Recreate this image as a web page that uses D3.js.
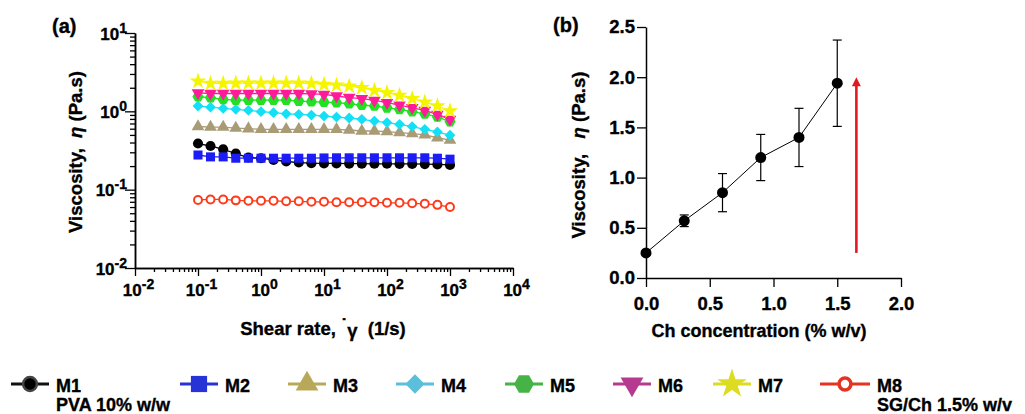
<!DOCTYPE html>
<html>
<head>
<meta charset="utf-8">
<title>Viscosity</title>
<script src="https://cdn.jsdelivr.net/npm/d3@7"></script>
<style>
  body { margin: 0; background: #fff; }
  svg text { font-family: "Liberation Sans", Arial, Helvetica, sans-serif; font-weight: bold; fill: #000; stroke: #000; stroke-width: 0.35px; }
</style>
</head>
<body>
<svg id="chart" width="1025" height="414"></svg>
<script>
// ---- data: panel (a), shear sweep ----
var shearRate = [0.1, 0.158, 0.251, 0.398, 0.631, 1, 1.58, 2.51, 3.98, 6.31, 10,
                 15.8, 25.1, 39.8, 63.1, 100, 158, 251, 398, 631, 1000];
var m1 = [0.388, 0.361, 0.328, 0.289, 0.257, 0.252, 0.240, 0.229, 0.222, 0.218, 0.216,
          0.216, 0.215, 0.215, 0.214, 0.214, 0.213, 0.213, 0.212, 0.210, 0.207];
var m2 = [0.277, 0.262, 0.262, 0.252, 0.252, 0.252, 0.252, 0.252, 0.252, 0.252, 0.254,
          0.255, 0.255, 0.255, 0.255, 0.255, 0.255, 0.255, 0.255, 0.252, 0.245];
var m3 = [0.64, 0.63, 0.63, 0.61, 0.60, 0.59, 0.59, 0.59, 0.59, 0.59, 0.59,
          0.59, 0.578, 0.561, 0.561, 0.551, 0.535, 0.52, 0.50, 0.46, 0.43];
var m4 = [1.17, 1.13, 1.09, 1.06, 1.03, 0.99, 0.96, 0.93, 0.915, 0.897, 0.871,
          0.846, 0.822, 0.791, 0.752, 0.718, 0.683, 0.638, 0.590, 0.545, 0.495];
var m5 = [1.54, 1.49, 1.42, 1.39, 1.39, 1.39, 1.39, 1.39, 1.35, 1.33, 1.31,
          1.29, 1.25, 1.20, 1.17, 1.11, 1.06, 0.99, 0.93, 0.85, 0.74];
var m6 = [1.72, 1.69, 1.69, 1.69, 1.69, 1.69, 1.69, 1.69, 1.69, 1.67, 1.65,
          1.57, 1.50, 1.45, 1.38, 1.29, 1.20, 1.11, 1.03, 0.916, 0.79];
var m7 = [2.43, 2.27, 2.27, 2.29, 2.29, 2.29, 2.29, 2.29, 2.29, 2.27, 2.21,
          2.16, 2.10, 2.00, 1.85, 1.73, 1.60, 1.45, 1.31, 1.17, 1.01];
var m8 = [0.074, 0.075, 0.075, 0.073, 0.072, 0.072, 0.072, 0.071, 0.071, 0.070, 0.070,
          0.069, 0.069, 0.069, 0.069, 0.068, 0.068, 0.067, 0.066, 0.064, 0.060];

var seriesNames = ['M1', 'M2', 'M3', 'M4', 'M5', 'M6', 'M7', 'M8'];
var seriesSub = ['PVA 10% w/w', '', '', '', '', '', '', 'SG/Ch 1.5% w/v'];
var plotColors = ['#000000', '#1c1cf5', '#a89b76', '#14e0f5', '#22e022', '#ff1a9a', '#f5f500', '#ff3a1a'];
var legendColors = ['#111111', '#2633d6', '#b8a95a', '#5bbfdc', '#45b345', '#b53a90', '#dcdc22', '#e63220'];
var xDecades = [0.01, 0.1, 1, 10, 100, 1000, 10000];
var yDecades = [0.01, 0.1, 1, 10];

// ---- data: panel (b), concentration ----
var chConc = [0, 0.3, 0.6, 0.9, 1.2, 1.5];
var viscMean = [0.25, 0.57, 0.85, 1.20, 1.40, 1.94];
var viscErr = [0, 0.058, 0.19, 0.23, 0.29, 0.43];
var arrowX = 1.65, arrowFrom = 0.25, arrowTo = 2.0;

var svg = d3.select('#chart');
svg.append('rect').attr('width', 1025).attr('height', 414).attr('fill', '#fff');

//---------------- panel (a) ----------------
var x = d3.scaleLog().domain([0.01, 10000]).range([135, 513]);
var y = d3.scaleLog().domain([0.01, 10]).range([268, 33]);

function minorTicks(decades) {
  var out = [];
  for (var i = 0; i < decades.length - 1; i++)
    for (var k = 2; k <= 9; k++) out.push(decades[i] * k);
  return out;
}

function styleAxis(g) {
  g.selectAll('path.domain').attr('stroke', '#000').attr('stroke-width', 1.5);
  g.selectAll('.tick line').attr('stroke', '#000').attr('stroke-width', 1.3);
}

// minor ticks first, then major with domain
svg.append('g').attr('transform', 'translate(0,268)')
  .call(d3.axisBottom(x).tickValues(minorTicks(xDecades)).tickSize(4).tickSizeOuter(0).tickFormat(''))
  .call(styleAxis);
svg.append('g').attr('transform', 'translate(135,0)')
  .call(d3.axisLeft(y).tickValues(minorTicks(yDecades)).tickSize(5).tickSizeOuter(0).tickFormat(''))
  .call(styleAxis);

var gx = svg.append('g').attr('transform', 'translate(0,268)')
  .call(d3.axisBottom(x).tickValues(xDecades).tickSize(8).tickSizeOuter(0).tickFormat(''))
  .call(styleAxis);
var gy = svg.append('g').attr('transform', 'translate(135,0)')
  .call(d3.axisLeft(y).tickValues(yDecades).tickSize(10).tickSizeOuter(0).tickFormat(''))
  .call(styleAxis);

function powLabel(sel) {
  sel.style('font-size', '17px');
  sel.append('tspan').text('10');
  sel.append('tspan').attr('dy', -7).style('font-size', '14px')
    .text(function(d) { return Math.round(Math.log10(d)); });
}

gx.selectAll('.tick').append('text')
  .attr('y', 296).attr('transform', 'translate(0,-268)')
  .attr('x', 3).attr('text-anchor', 'middle')
  .call(powLabel);
gy.selectAll('.tick').append('text')
  .attr('x', -8).attr('y', 6).attr('text-anchor', 'end')
  .call(powLabel);

var shapes = [
  d3.symbolCircle, d3.symbolSquare, d3.symbolTriangle, 'diamond',
  'hexagon', 'tridown', d3.symbolStar, d3.symbolCircle
];

function hexPath(r) {
  var p = d3.path();
  for (var i = 0; i < 6; i++) {
    var a = Math.PI / 3 * i;
    if (i === 0) p.moveTo(r * Math.cos(a), r * Math.sin(a));
    else p.lineTo(r * Math.cos(a), r * Math.sin(a));
  }
  p.closePath();
  return p.toString();
}

function markerPath(i, scale) {
  var s = shapes[i];
  if (s === 'diamond') return d3.symbol(d3.symbolSquare, 58 * scale)();
  if (s === 'hexagon') return hexPath(5.6 * Math.sqrt(scale));
  if (s === 'tridown') return d3.symbol(d3.symbolTriangle, 70 * scale)();
  var sizes = [80, 82, 70, 0, 0, 0, 85, 50];
  return d3.symbol(s, sizes[i] * scale)();
}
function markerRotate(i) {
  if (shapes[i] === 'diamond') return ' rotate(45)';
  if (shapes[i] === 'tridown') return ' rotate(180)';
  return '';
}

var allSeries = [m1, m2, m3, m4, m5, m6, m7, m8];
var line = d3.line().x(function(d) { return x(d[0]); }).y(function(d) { return y(d[1]); });

// draw from M8 up so the black M1 sits on top
[7, 0, 1, 2, 3, 4, 5, 6].forEach(function(si) {
  var pts = shearRate.map(function(r, j) { return [r, allSeries[si][j]]; });
  var g = svg.append('g');
  g.append('path').datum(pts).attr('d', line)
    .attr('fill', 'none').attr('stroke', plotColors[si]).attr('stroke-width', 1.3);
  g.selectAll('path.pt').data(pts).enter().append('path')
    .attr('class', 'pt')
    .attr('d', markerPath(si, 1))
    .attr('transform', function(d) { return 'translate(' + x(d[0]) + ',' + y(d[1]) + ')' + markerRotate(si); })
    .attr('fill', si === 7 ? '#fff' : plotColors[si])
    .attr('stroke', si === 7 ? plotColors[si] : 'none')
    .attr('stroke-width', si === 7 ? 2 : 0);
});

svg.append('text').attr('x', 52).attr('y', 33).style('font-size', '20px').text('(a)');

var yl = svg.append('text').attr('transform', 'translate(82,152) rotate(-90)')
  .attr('text-anchor', 'middle').style('font-size', '18.5px');
yl.append('tspan').text('Viscosity,\u00a0\u00a0');
yl.append('tspan').style('font-style', 'italic').text('η');
yl.append('tspan').text('\u00a0(Pa.s)');

var xl = svg.append('text').attr('x', 323).attr('y', 335)
  .attr('text-anchor', 'middle').style('font-size', '18.5px');
xl.append('tspan').text('Shear rate, ');
xl.append('tspan').attr('dy', -3).text('˙');
xl.append('tspan').attr('dy', 5).text('γ');
xl.append('tspan').attr('dy', -2).text('\u00a0\u00a0(1/s)');

//---------------- panel (b) ----------------
var bx = d3.scaleLinear().domain([0, 2]).range([646, 901]);
var by = d3.scaleLinear().domain([0, 2.5]).range([278, 27]);

var gbx = svg.append('g').attr('transform', 'translate(0,278)')
  .call(d3.axisBottom(bx).tickValues([0, 0.5, 1, 1.5, 2]).tickSize(9).tickSizeOuter(0).tickPadding(5).tickFormat(d3.format('.1f')))
  .call(styleAxis);
var gby = svg.append('g').attr('transform', 'translate(646,0)')
  .call(d3.axisLeft(by).tickValues([0, 0.5, 1, 1.5, 2, 2.5]).tickSize(9).tickSizeOuter(0).tickPadding(2).tickFormat(d3.format('.1f')))
  .call(styleAxis);
gbx.attr('font-family', null).attr('font-size', null);
gby.attr('font-family', null).attr('font-size', null);
gbx.selectAll('.tick text').style('font-size', '18.5px').attr('fill', '#000').attr('dy', '0.95em');
gby.selectAll('.tick text').style('font-size', '18.5px').attr('fill', '#000');

var bpts = chConc.map(function(c, i) { return { x: c, y: viscMean[i], e: viscErr[i] }; });
var eb = svg.append('g').selectAll('g').data(bpts.filter(function(d) { return d.e > 0; })).enter().append('g');
eb.append('line')
  .attr('x1', function(d) { return bx(d.x); }).attr('x2', function(d) { return bx(d.x); })
  .attr('y1', function(d) { return by(d.y - d.e); }).attr('y2', function(d) { return by(d.y + d.e); })
  .attr('stroke', '#000').attr('stroke-width', 1.2);
[-1, 1].forEach(function(s) {
  eb.append('line')
    .attr('x1', function(d) { return bx(d.x) - 4.5; }).attr('x2', function(d) { return bx(d.x) + 4.5; })
    .attr('y1', function(d) { return by(d.y + s * d.e); }).attr('y2', function(d) { return by(d.y + s * d.e); })
    .attr('stroke', '#000').attr('stroke-width', 1.2);
});

svg.append('path').datum(bpts)
  .attr('d', d3.line().x(function(d) { return bx(d.x); }).y(function(d) { return by(d.y); }))
  .attr('fill', 'none').attr('stroke', '#000').attr('stroke-width', 1);
svg.append('g').selectAll('circle').data(bpts).enter().append('circle')
  .attr('cx', function(d) { return bx(d.x); }).attr('cy', function(d) { return by(d.y); })
  .attr('r', 5.5).attr('fill', '#000');

// red arrow
svg.append('line')
  .attr('x1', bx(arrowX)).attr('x2', bx(arrowX))
  .attr('y1', by(arrowFrom)).attr('y2', by(arrowTo) + 8)
  .attr('stroke', '#e3191f').attr('stroke-width', 2.6);
svg.append('path')
  .attr('d', 'M' + (bx(arrowX) - 4.5) + ',' + (by(arrowTo) + 9) + 'L' + bx(arrowX) + ',' + by(arrowTo) + 'L' + (bx(arrowX) + 4.5) + ',' + (by(arrowTo) + 9) + 'Z')
  .attr('fill', '#e3191f');

svg.append('text').attr('x', 553).attr('y', 32).style('font-size', '20px').text('(b)');
var byl = svg.append('text').attr('transform', 'translate(585,155) rotate(-90)')
  .attr('text-anchor', 'middle').style('font-size', '18.5px');
byl.append('tspan').text('Viscosity,\u00a0\u00a0\u00a0');
byl.append('tspan').style('font-style', 'italic').text('η');
byl.append('tspan').text('\u00a0(Pa.s)');
svg.append('text').attr('x', 759).attr('y', 337).attr('text-anchor', 'middle')
  .style('font-size', '18px').text('Ch concentration (% w/v)');

//---------------- legend ----------------
var legendX = [30, 199, 307, 415, 524, 632, 732, 845];
var legendHalf = [19, 19, 19, 19, 19, 19, 19, 25];
var lg = svg.append('g').selectAll('g').data(seriesNames).enter().append('g')
  .attr('transform', function(d, i) { return 'translate(' + legendX[i] + ',384)'; });
lg.append('line')
  .attr('x1', function(d, i) { return -legendHalf[i]; }).attr('x2', function(d, i) { return legendHalf[i]; })
  .attr('stroke', function(d, i) { return legendColors[i]; }).attr('stroke-width', 3);
lg.append('path')
  .attr('d', function(d, i) {
    if (i === 0) return d3.symbol(d3.symbolCircle, 150)();
    if (i === 7) return d3.symbol(d3.symbolCircle, 110)();
    return markerPath(i, 3.2);
  })
  .attr('transform', function(d, i) { return markerRotate(i); })
  .attr('fill', function(d, i) { return i === 7 ? '#fff' : (i === 0 ? '#000' : legendColors[i]); })
  .attr('stroke', function(d, i) { return i === 0 ? '#444' : (i === 7 ? legendColors[i] : 'none'); })
  .attr('stroke-width', function(d, i) { return i === 7 ? 3.5 : 2.5; });
lg.append('text')
  .attr('x', function(d, i) { return legendHalf[i] + 7; }).attr('y', 8)
  .style('font-size', '18px').text(function(d) { return d; });
lg.append('text')
  .attr('x', function(d, i) { return legendHalf[i] + 7; }).attr('y', 27)
  .style('font-size', '18px').text(function(d, i) { return seriesSub[i]; });
</script>
</body>
</html>
